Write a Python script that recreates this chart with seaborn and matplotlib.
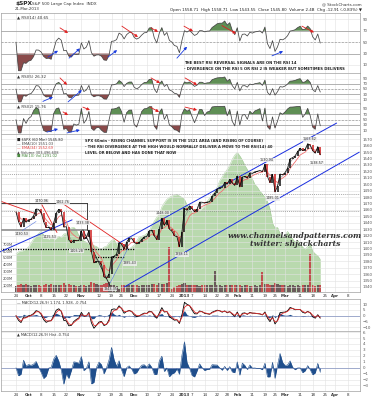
import numpy as np
import pandas as pd
import matplotlib
matplotlib.use("Agg")
import matplotlib.pyplot as plt
import seaborn as sns

sns.set_theme(style="white")
plt.rcParams['font.family'] = ['DejaVu Sans']

# S&P 500 daily closes, 24-Sep-2012 .. 21-Mar-2013 (chart is 60 min, here one point per day)
close = [1456.89, 1441.59, 1433.32, 1447.15, 1440.67,
         1444.49, 1445.75, 1450.99, 1461.40, 1460.93, 1455.88, 1441.48, 1432.56, 1432.84, 1428.59,
         1440.13, 1454.92, 1460.91, 1457.34, 1433.19, 1433.82, 1413.11, 1408.75, 1412.97, 1411.94, 1412.16,
         1427.59, 1414.20, 1417.26, 1428.39, 1394.53, 1377.51, 1379.85, 1380.03, 1374.53, 1355.49,
         1353.33, 1359.88, 1386.89, 1387.81, 1391.03, 1409.15, 1406.29, 1398.94, 1409.93, 1415.95, 1416.18,
         1409.46, 1407.05, 1409.28, 1413.94, 1418.07, 1418.55, 1427.84, 1428.48, 1419.45, 1413.58,
         1430.36, 1446.79, 1435.81, 1443.69, 1430.15, 1426.66, 1419.83, 1418.10, 1402.43, 1426.19,
         1462.42, 1459.37, 1466.47, 1461.89, 1457.15, 1461.02, 1472.12, 1472.05, 1470.68, 1472.34,
         1472.63, 1480.94, 1485.98, 1492.56, 1494.81, 1494.82, 1502.96, 1500.18, 1507.84, 1501.96, 1498.11,
         1513.17, 1495.71, 1511.29, 1512.12, 1509.39, 1517.93, 1517.01, 1519.43, 1520.33, 1521.38,
         1519.79, 1530.94, 1511.95, 1502.42, 1515.60, 1487.85, 1496.94, 1515.99, 1514.68,
         1518.20, 1525.20, 1539.79, 1541.46, 1544.26, 1551.18, 1556.22, 1552.48, 1554.52, 1563.23,
         1560.70, 1552.10, 1548.34, 1558.71, 1545.80]

# green volume area (millions)
green_vol = [560, 590, 600, 610, 630, 660, 720, 780, 820, 860,
             890, 840, 790, 770, 830, 760, 790, 820, 800, 850,
             860, 910, 940, 950, 910, 830, 780, 750, 730, 700,
             710, 680, 670, 640, 630, 660, 670, 720, 760, 770,
             700, 730, 700, 670, 640, 630, 660, 690, 750, 810,
             820, 830, 860, 890, 980, 1040, 1100, 1140, 1250, 1310,
             1360, 1390, 1410, 1420, 1430, 1410, 1390, 1360, 1280, 1220,
             1170, 1170, 1190, 1190, 1230, 1260, 1330, 1380, 1420, 1470,
             1540, 1630, 1690, 1750, 1800, 1860, 1950, 2010, 2050, 2000,
             1940, 1860, 1800, 1730, 1660, 1580, 1540, 1480, 1440, 1390,
             1330, 1220, 1010, 940, 950, 860, 810, 830, 890, 830,
             780, 730, 760, 700, 660, 630, 670, 700, 600, 560,
             530, 480]

# volume bars (millions)
bar_vol = [95, 110, 120, 105, 115, 100, 90, 105, 110, 100,
           95, 110, 115, 105, 120, 100, 110, 105, 100, 130,
           110, 120, 105, 100, 95, 90, 105, 100, 95, 110,
           140, 130, 115, 100, 105, 120, 125, 140, 110, 100,
           95, 50, 105, 110, 100, 105, 110, 100, 105, 95,
           100, 110, 105, 100, 115, 120, 110, 125, 120, 115,
           130, 660, 50, 80, 85, 110, 115, 130, 110, 105,
           100, 105, 100, 95, 110, 105, 100, 105, 110, 305,
           100, 105, 95, 100, 110, 105, 100, 105, 110, 100,
           95, 105, 100, 95, 90, 100, 95, 100, 290, 115,
           120, 105, 110, 130, 115, 110, 105, 100, 95, 105,
           100, 95, 100, 95, 100, 105, 110, 555, 100, 95,
           105, 110]

holidays = ['2012-10-29', '2012-10-30', '2012-11-22', '2012-12-25', '2013-01-01',
            '2013-01-21', '2013-02-18', '2013-03-29']
tick_dates = ['2012-09-24', '2012-10-01', '2012-10-08', '2012-10-15', '2012-10-22', '2012-11-01',
              '2012-11-12', '2012-11-19', '2012-11-26', '2012-12-03', '2012-12-10', '2012-12-17',
              '2012-12-24', '2013-01-02', '2013-01-07', '2013-01-14', '2013-01-22', '2013-01-28',
              '2013-02-01', '2013-02-11', '2013-02-19', '2013-02-25', '2013-03-01', '2013-03-11',
              '2013-03-18', '2013-03-25', '2013-04-01', '2013-04-08']
tick_labels = ['24', 'Oct', '8', '15', '22', 'Nov', '12', '19', '26', 'Dec', '10', '17', '24', '2013',
               '7', '14', '22', '28', 'Feb', '11', '19', '25', 'Mar', '11', '18', '25', 'Apr', '8']
month_labels = ['Oct', 'Nov', 'Dec', '2013', 'Feb', 'Mar', 'Apr']

# hand drawn annotations (day index, price)
blue_lines = [((41, 1408.5), (127.5, 1595.3)), ((43.1, 1340), (136.5, 1550)),
              ((-6.4, 1394.6), (22.3, 1444.5))]
thin_blue_lines = [((37.4, 1346), (44.5, 1400)), ((2.5, 1428), (8.0, 1442))]
red_lines = [((-6.4, 1474), (8, 1453.8)), ((10.3, 1468), (16.3, 1424.8)), ((18.7, 1469.6), (44.5, 1401))]
black_lines = [((-6.4, 1470.8), (28.2, 1470.8)), ((28.2, 1470.8), (28.2, 1428.7)),
               ((26.6, 1429), (37.4, 1341.8))]
gray_box_line = ((-6.4, 1428.7), (28.2, 1428.7))
black_dotted = [((-6.4, 1399), (47.3, 1399)), ((31.4, 1387), (43.3, 1387))]
gray_levels = [1531.5, 1515.5, 1484.5, 1457.7]
price_notes = [(10.3, 1474, '1470.96'), (18.7, 1472, '1462.76'), (2.4, 1423, '1430.53'),
               (13.5, 1418, '1425.53'), (26.6, 1440, '1433.38'), (24.0, 1396, '1403.28'),
               (37.4, 1337, '1343.35'), (45.3, 1377, '1385.43'), (58.4, 1455, '1448.00'),
               (66.0, 1391, '1398.11'), (99.8, 1538, '1530.94'), (102.2, 1478, '1485.01'),
               (116.9, 1570, '1563.62'), (119.7, 1533, '1538.57')]

# divergence arrows on the RSI panels: (x0, v0, x1, v1)
rsi14_red = [(17.5, 75, 20.7, 66), (42.1, 78, 48.5, 59), (53.7, 75, 56.5, 68),
             (66.8, 78, 70.4, 69), (81.9, 79, 87.5, 65), (113.7, 78, 118.5, 67)]
rsi14_blue = [(12.7, 24, 16.7, 35), (21.1, 22, 25.4, 39), (36.6, 24, 40.2, 36),
              (64.0, 22, 68.0, 42), (101.8, 26, 106.2, 34)]
rsi5_red = [(17.5, 93, 20.3, 66), (53.7, 93, 57.3, 73), (67.2, 93, 72.0, 66)]
rsi5_blue = [(10.7, 2, 14.7, 19), (20.7, 0, 26.2, 46)]
rsi2_red = [(18.7, 79, 20.7, 67), (26.6, 97, 29.4, 86), (53.3, 97, 56.9, 79), (67.2, 97, 72.0, 86)]
rsi2_blue = [(12.3, 3, 16.7, 15), (20.3, 0, 25.4, 11)]

cal = pd.bdate_range('2012-09-24', '2013-04-12')
cal = cal[~cal.isin(pd.to_datetime(holidays))]
tick_pos = [cal.get_loc(pd.Timestamp(d)) for d in tick_dates]

s = pd.Series(close)
x = np.arange(len(s))


def rsi(series, n):
    d = series.diff()
    up = d.clip(lower=0).ewm(alpha=1 / n, adjust=False).mean()
    dn = (-d.clip(upper=0)).ewm(alpha=1 / n, adjust=False).mean()
    return (100 - 100 / (1 + up / dn)).fillna(50)


# periods shortened because the points are days, not hours
rsi14 = rsi(s, 7)
rsi5 = rsi(s, 4)
rsi2 = rsi(s, 2)
ema_fast = s.ewm(span=2, adjust=False).mean()
ema_slow = s.ewm(span=5, adjust=False).mean()
macd = s.ewm(span=2, adjust=False).mean() - s.ewm(span=4, adjust=False).mean()
signal = macd.ewm(span=2, adjust=False).mean()
hist = macd - signal

FS = 2.9
GRID = '#e2e2e2'
fig = plt.figure(figsize=(3.77, 4.0), dpi=100)
L, W = 1 / 377, 359 / 377


def rect(top, bottom):
    return [L, 1 - bottom / 400, W, (bottom - top) / 400]


XLIM = (-5.96, 136.8)


def style(ax, yticks, ylim, xlabels=False):
    ax.set_xlim(*XLIM)
    ax.set_ylim(*ylim)
    ax.yaxis.tick_right()
    ax.set_yticks(yticks)
    ax.set_xticks(tick_pos)
    ax.tick_params(axis='y', labelsize=FS, length=0, pad=2, colors='#555555')
    ax.tick_params(axis='x', labelsize=FS, length=0, pad=1.2, colors='#333333', labelbottom=xlabels)
    if xlabels:
        ax.set_xticklabels(tick_labels)
        for lab in ax.get_xticklabels():
            if lab.get_text() in month_labels:
                lab.set_fontweight('bold')
    for sp in ax.spines.values():
        sp.set_color('#a0a0a0')
        sp.set_linewidth(0.5)
    for p in tick_pos:
        ax.axvline(p, color=GRID, lw=0.4, zorder=0)
    for v in yticks:
        ax.axhline(v, color=GRID, lw=0.4, zorder=0)


def arrows(ax, items, color):
    for x0, v0, x1, v1 in items:
        ax.annotate('', xy=(x1, v1), xytext=(x0, v0),
                    arrowprops=dict(arrowstyle='-|>', color=color, lw=0.6,
                                    mutation_scale=4, shrinkA=0, shrinkB=0))


def rsi_panel(r, top, bottom, ylim, label, reds, blues):
    ax = fig.add_axes(rect(top, bottom))
    style(ax, [10, 30, 50, 70, 90], ylim)
    ax.axhline(70, color='#9a9a9a', lw=0.5)
    ax.axhline(30, color='#9a9a9a', lw=0.5)
    ax.axhline(50, color='#9a9a9a', lw=0.5, ls=(0, (3, 2)))
    ax.fill_between(x, r, 70, where=r > 70, interpolate=True, color='#5f8f55', lw=0)
    ax.fill_between(x, r, 30, where=r < 30, interpolate=True, color='#8a4a4a', lw=0)
    ax.plot(x, r, color='#444444', lw=0.55)
    ax.text(0.045, 0.96, '\u25b2 ' + label, transform=ax.transAxes, fontsize=FS,
            color='#333333', va='top')
    arrows(ax, reds, '#e02020')
    arrows(ax, blues, '#1a3ce0')
    return ax


ax14 = rsi_panel(rsi14, 13, 73, (-4.0, 101.0), 'RSI(14) 40.65', rsi14_red, rsi14_blue)
ax14.text(0.51, 0.16, 'THE BEST RSI REVERSAL SIGNALS ARE ON THE RSI 14', transform=ax14.transAxes,
          fontsize=2.7, fontweight='bold', color='#222222', va='center')
ax14.text(0.51, 0.06, '- DIVERGENCE ON THE RSI 5 OR RSI 2 IS WEAKER BUT SOMETIMES DELIVERS',
          transform=ax14.transAxes, fontsize=2.7, fontweight='bold', color='#222222', va='center')
rsi_panel(rsi5, 73, 103.5, (-6.2, 112.0), 'RSI(5) 26.32', rsi5_red, rsi5_blue)
rsi_panel(rsi2, 103.5, 134, (-4.1, 110.5), 'RSI(2) 15.76', rsi2_red, rsi2_blue)

# price panel: volume underneath on its own scale
axv = fig.add_axes(rect(134, 292))
axv.set_xlim(*XLIM)
axv.set_ylim(0, 2320)
axv.fill_between(x, green_vol, color='#b9d9ae', lw=0)
axv.plot(x, green_vol, color='#9cc78f', lw=0.3)
up = np.r_[True, np.diff(close) >= 0]
axv.bar(x, bar_vol, width=0.85, color=np.where(up, '#6a5a5a', '#c05050'), lw=0)
axv.set_yticks([100, 200, 300, 400, 500, 600, 700])
axv.set_yticklabels(['100M', '200M', '300M', '400M', '500M', '600M', '700M'])
axv.tick_params(axis='y', labelsize=2.6, length=0, pad=-1, colors='#444444')
for lab in axv.get_yticklabels():
    lab.set_horizontalalignment('left')
axv.set_xticks([])
for sp in axv.spines.values():
    sp.set_visible(False)

axp = fig.add_axes(rect(134, 292))
axp.patch.set_visible(False)
style(axp, list(range(1340, 1571, 10)), (1332.1, 1578.3), xlabels=True)
for lv in gray_levels:
    axp.axhline(lv, color='#8a8a8a', lw=0.5, ls=(0, (1.5, 1.5)))
(a, b), (c, d) = gray_box_line
axp.plot([a, c], [b, d], color='#909090', lw=1.2)
for (a, b), (c, d) in black_dotted:
    axp.plot([a, c], [b, d], color='black', lw=0.9, ls=(0, (1, 1)))
for (a, b), (c, d) in black_lines:
    axp.plot([a, c], [b, d], color='#222222', lw=0.6)
for (a, b), (c, d) in red_lines:
    axp.plot([a, c], [b, d], color='#e02020', lw=0.6)
for (a, b), (c, d) in thin_blue_lines:
    axp.plot([a, c], [b, d], color='#5a78e0', lw=0.4)
for (a, b), (c, d) in blue_lines:
    axp.plot([a, c], [b, d], color='#1a2ee0', lw=0.7, clip_on=False)
axp.plot(x, ema_slow, color='#f07070', lw=0.6)
axp.plot(x, ema_fast, color='#888888', lw=0.4)
prev = np.r_[close[0], close[:-1]]
axp.vlines(x, prev, close, colors=np.where(up, '#111111', '#d02020'), lw=1.1)
axp.plot(x, close, color='black', lw=0.5)
for xi, yi, t in price_notes:
    axp.text(xi, yi, t, fontsize=2.4, color='#333333', ha='center', va='center',
             bbox=dict(boxstyle='square,pad=0.1', fc='#eeeeee', ec='none', alpha=0.85))
legend_lines = [('\u25a0 $SPX (60 Min) 1545.80', '#222222'), ('\u2014 EMA(10) 1551.03', '#444444'),
                ('\u2014 EMA(34) 1552.69', '#e04040'), ('\u25b2 Volume 303,496,608', '#444444'),
                ('\u25a0 MA(10) Vol 1291.02', '#4a8a40')]
for i, (t, col) in enumerate(legend_lines):
    axp.text(0.045, 0.975 - i * 0.026, t, transform=axp.transAxes, fontsize=2.6, color=col, va='top')
notes = ['SPX 60min - RISING CHANNEL SUPPORT IS IN THE 1521 AREA (AND RISING OF COURSE)',
         '- THE RSI DIVERGENCE AT THE HIGH WOULD NORMALLY DELIVER A MOVE TO THE RSI(14) 40',
         'LEVEL OR BELOW AND HAS DONE THAT NOW']
for i, t in enumerate(notes):
    axp.text(0.234, 0.956 - i * 0.038, t, transform=axp.transAxes, fontsize=2.6,
             fontweight='bold', color='#222222', va='center')
axp.text(0.82, 0.354, 'www.channelsandpatterns.com', transform=axp.transAxes, ha='center',
         va='center', fontsize=5.6, family='DejaVu Serif', style='italic', fontweight='bold',
         color='#333333')
axp.text(0.82, 0.304, 'twitter: shjackcharts', transform=axp.transAxes, ha='center',
         va='center', fontsize=5.6, family='DejaVu Serif', style='italic', fontweight='bold',
         color='#333333')

# MACD
axm = fig.add_axes(rect(299, 331))
style(axm, [-10, -5, 0, 5, 10], (-13.4, 14.6))
axm.axhline(0, color='#8090c0', lw=0.5)
axm.fill_between(x, hist, 0, color='#1f4e8c', lw=0)
axm.plot(x, macd, color='black', lw=0.6)
axm.plot(x, signal, color='#e03030', lw=0.6)
axm.text(0.045, 0.95, '\u2014 MACD(12,26,9) 1.174, 1.928, -0.754', transform=axm.transAxes,
         fontsize=2.6, color='#333333', va='top')

axh = fig.add_axes(rect(331, 391))
style(axh, [-3, -2, -1, 0, 1, 2, 3, 4, 5, 6], (-3.93, 6.19), xlabels=True)
axh.axhline(0, color='#8090c0', lw=0.5)
axh.fill_between(x, hist, 0, color='#1f4e8c', lw=0)
axh.plot(x, hist, color='#1f4e8c', lw=0.4)
axh.text(0.045, 0.975, '\u25b2 MACD(12,26,9) Hist -0.754', transform=axh.transAxes,
         fontsize=2.6, color='#333333', va='top')

# header
fig.text(15 / 377, 1 - 4 / 400, '$SPX', fontsize=4.2, fontweight='bold', va='center')
fig.text(32 / 377, 1 - 4 / 400, 'S&P 500 Large Cap Index  INDX', fontsize=3.0, va='center',
         color='#333333')
fig.text(15 / 377, 1 - 9.5 / 400, '21-Mar-2013', fontsize=2.8, va='center', color='#333333')
fig.text(362 / 377, 1 - 4 / 400, '@ StockCharts.com', fontsize=2.9, va='center', ha='right',
         color='#333333')
fig.text(362 / 377, 1 - 9.5 / 400,
         'Open 1558.71  High 1558.71  Low 1543.55  Close 1545.80  Volume 2.4B  Chg -12.91 (-0.83%) \u25bc',
         fontsize=2.9, va='center', ha='right', color='#222222')

fig.savefig('out.png', dpi=100)
